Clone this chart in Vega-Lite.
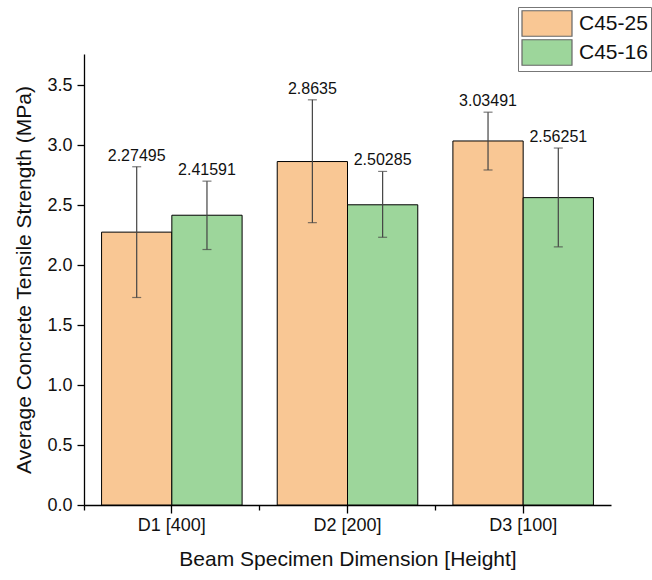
{
  "$schema": "https://vega.github.io/schema/vega-lite/v6.json",
  "autosize": {"type": "none"},
  "padding": {"left": 84, "top": 54, "right": 41, "bottom": 75},
  "width": 527,
  "height": 451,
  "background": "white",
  "config": {
    "view": {"stroke": null},
    "font": "Liberation Sans",
    "axis": {"domainColor": "black", "tickColor": "black", "labelColor": "#111", "titleColor": "#111", "grid": false, "domainWidth": 1.3, "tickWidth": 1.3}
  },
  "data": {
    "values": [
      {"dim": "D1 [400]", "series": "C45-25", "value": 2.27495, "lo": 1.73, "hi": 2.82, "label": "2.27495"},
      {"dim": "D1 [400]", "series": "C45-16", "value": 2.41591, "lo": 2.13, "hi": 2.70, "label": "2.41591"},
      {"dim": "D2 [200]", "series": "C45-25", "value": 2.8635, "lo": 2.354, "hi": 3.378, "label": "2.8635"},
      {"dim": "D2 [200]", "series": "C45-16", "value": 2.50285, "lo": 2.232, "hi": 2.781, "label": "2.50285"},
      {"dim": "D3 [100]", "series": "C45-25", "value": 3.03491, "lo": 2.793, "hi": 3.275, "label": "3.03491"},
      {"dim": "D3 [100]", "series": "C45-16", "value": 2.56251, "lo": 2.152, "hi": 2.976, "label": "2.56251"}
    ]
  },
  "encoding": {
    "x": {
      "field": "dim", "type": "nominal", "sort": ["D1 [400]", "D2 [200]", "D3 [100]"],
      "scale": {"paddingInner": 0.2, "paddingOuter": 0.1},
      "axis": null
    },
    "xOffset": {
      "field": "series", "type": "nominal", "sort": ["C45-25", "C45-16"],
      "scale": {"paddingInner": 0, "paddingOuter": 0}
    }
  },
  "layer": [
    {
      "mark": {"type": "bar", "stroke": "black", "strokeWidth": 1},
      "encoding": {
        "x": {
          "field": "dim", "type": "nominal", "sort": ["D1 [400]", "D2 [200]", "D3 [100]"],
          "axis": {"orient": "bottom", "labelAngle": 0, "labelFontSize": 18, "labelPadding": 3, "tickSize": 8,
                   "title": "Beam Specimen Dimension [Height]", "titleFontSize": 21, "titleFontWeight": "normal", "titlePadding": 14}
        },
        "y": {
          "field": "value", "type": "quantitative",
          "scale": {"domain": [0, 3.76], "nice": false, "zero": true},
          "axis": {
            "values": [0, 0.25, 0.5, 0.75, 1, 1.25, 1.5, 1.75, 2, 2.25, 2.5, 2.75, 3, 3.25, 3.5, 3.75],
            "labelExpr": "datum.value % 0.5 === 0 ? format(datum.value, '.1f') : ''",
            "tickSize": {"condition": {"test": "datum.value % 0.5 === 0", "value": 7}, "value": 4},
            "labelFontSize": 18, "labelPadding": 5,
            "title": "Average Concrete Tensile Strength (MPa)", "titleFontSize": 21, "titleFontWeight": "normal", "titlePadding": 12
          }
        },
        "color": {
          "field": "series", "type": "nominal",
          "scale": {"domain": ["C45-25", "C45-16"], "range": ["#F9C794", "#9DD69B"]},
          "legend": {
            "orient": "none", "legendX": 434, "legendY": -47, "title": null,
            "fillColor": "white", "strokeColor": "#777", "padding": 3,
            "symbolType": "M-1,-1.02H3V1.02H-1Z", "symbolSize": 625,
            "symbolStrokeColor": "#666", "symbolStrokeWidth": 1.2, "symbolOpacity": 1,
            "labelFontSize": 21, "labelColor": "#111", "rowPadding": -3, "labelOffset": 31
          }
        }
      }
    },
    {
      "mark": {"type": "rule", "color": "#444", "strokeWidth": 1.2},
      "encoding": {
        "x": {
          "field": "dim", "type": "nominal", "sort": ["D1 [400]", "D2 [200]", "D3 [100]"],
          "axis": {"orient": "bottom", "bandPosition": -0.125, "labels": false, "domain": false, "tickSize": 5, "title": null}
        },
        "y": {"field": "lo", "type": "quantitative"},
        "y2": {"field": "hi"}
      }
    },
    {
      "mark": {"type": "tick", "color": "#444", "size": 9, "thickness": 1.2},
      "encoding": {
        "y": {"field": "lo", "type": "quantitative"}
      }
    },
    {
      "mark": {"type": "tick", "color": "#444", "size": 9, "thickness": 1.2},
      "encoding": {
        "y": {"field": "hi", "type": "quantitative"}
      }
    },
    {
      "mark": {"type": "text", "dy": -6, "fontSize": 16, "color": "#111", "baseline": "alphabetic"},
      "encoding": {
        "y": {"field": "hi", "type": "quantitative"},
        "text": {"field": "label"}
      }
    }
  ],
  "resolve": {"axis": {"x": "independent"}}
}
